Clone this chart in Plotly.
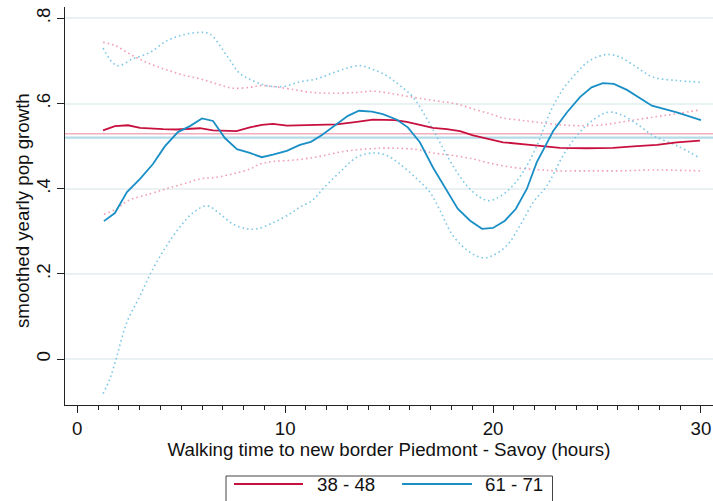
import plotly.graph_objects as go

# Smoothed yearly population growth by walking time to the new border,
# for two age cohorts, with confidence bands and the overall means.

# cohort 38 - 48
x_red = [1.24, 1.81, 2.44, 3.02, 4.13, 4.79, 5.90, 6.53, 7.66, 8.30, 8.88, 9.41,
         10.09, 11.29, 12.48, 13.45, 14.22, 15.28, 15.85, 16.48, 17.10, 17.78,
         18.41, 19.04, 19.71, 20.48, 21.77, 23.22, 24.50, 25.77, 26.92, 27.88,
         28.84, 29.95]
y_red = [0.537, 0.547, 0.549, 0.543, 0.540, 0.539, 0.542, 0.537, 0.535, 0.544,
         0.550, 0.552, 0.548, 0.549, 0.551, 0.557, 0.562, 0.561, 0.557, 0.550,
         0.543, 0.540, 0.535, 0.525, 0.517, 0.509, 0.503, 0.496, 0.495, 0.496,
         0.500, 0.503, 0.509, 0.513]

x_red_hi = [1.24, 1.81, 2.68, 3.50, 4.30, 5.08, 5.90, 6.70, 7.49, 8.30, 8.79, 9.41,
            10.23, 11.29, 12.30, 13.45, 14.22, 15.04, 15.85, 16.63, 17.44, 18.26,
            19.04, 19.85, 20.48, 21.29, 22.11, 23.22, 24.18, 25.28, 26.10, 27.69,
            28.84, 29.95]
y_red_hi = [0.744, 0.736, 0.712, 0.693, 0.679, 0.667, 0.658, 0.646, 0.636, 0.638,
            0.642, 0.640, 0.634, 0.626, 0.624, 0.626, 0.629, 0.624, 0.617, 0.611,
            0.605, 0.599, 0.587, 0.576, 0.566, 0.561, 0.556, 0.550, 0.548, 0.550,
            0.556, 0.568, 0.576, 0.585]

x_red_lo = [1.28, 1.90, 2.44, 3.50, 4.30, 5.08, 5.90, 6.70, 7.49, 8.30, 8.79, 9.41,
            10.57, 11.67, 12.63, 13.60, 14.56, 15.38, 16.34, 17.11, 18.07, 19.04,
            19.85, 20.96, 22.11, 23.07, 24.50, 26.10, 27.69, 29.95]
y_red_lo = [0.340, 0.353, 0.372, 0.388, 0.400, 0.411, 0.423, 0.427, 0.435, 0.446,
            0.458, 0.464, 0.468, 0.476, 0.486, 0.492, 0.495, 0.495, 0.492, 0.484,
            0.478, 0.470, 0.460, 0.450, 0.445, 0.442, 0.442, 0.442, 0.444, 0.442]

# cohort 61 - 71
x_blue = [1.28, 1.81, 2.39, 3.02, 3.64, 4.22, 4.84, 5.42, 6.00, 6.53, 7.10, 7.68,
          8.30, 8.88, 9.41, 10.08, 10.71, 11.24, 11.77, 12.49, 13.02, 13.55, 14.17,
          14.70, 15.38, 15.90, 16.48, 17.11, 17.78, 18.30, 18.90, 19.47, 20.00,
          20.57, 21.10, 21.63, 22.10, 22.90, 23.55, 24.18, 24.74, 25.28, 25.81,
          26.44, 27.64, 28.84, 30.00]
y_blue = [0.324, 0.343, 0.392, 0.423, 0.458, 0.500, 0.533, 0.547, 0.565, 0.559,
          0.519, 0.493, 0.484, 0.474, 0.480, 0.489, 0.503, 0.510, 0.526, 0.552,
          0.571, 0.583, 0.581, 0.575, 0.562, 0.544, 0.509, 0.450, 0.396, 0.353,
          0.325, 0.306, 0.308, 0.325, 0.353, 0.400, 0.462, 0.536, 0.579, 0.615,
          0.638, 0.648, 0.646, 0.632, 0.595, 0.579, 0.561]

x_blue_hi = [1.24, 1.91, 2.68, 3.50, 4.30, 5.08, 5.90, 6.38, 7.20, 7.83, 8.43, 9.10,
             9.90, 10.71, 11.53, 12.30, 12.97, 13.60, 14.22, 14.89, 15.52, 16.15,
             16.82, 17.44, 18.07, 18.74, 19.37, 19.76, 20.19, 20.81, 21.44, 22.11,
             22.74, 23.37, 24.04, 24.66, 25.47, 26.10, 26.92, 27.69, 28.84, 29.95]
y_blue_hi = [0.730, 0.689, 0.705, 0.720, 0.747, 0.761, 0.767, 0.763, 0.712, 0.670,
             0.654, 0.642, 0.640, 0.651, 0.658, 0.672, 0.683, 0.689, 0.680, 0.665,
             0.642, 0.615, 0.564, 0.509, 0.454, 0.407, 0.380, 0.372, 0.378, 0.400,
             0.439, 0.501, 0.579, 0.634, 0.673, 0.701, 0.715, 0.709, 0.685, 0.662,
             0.654, 0.650]

x_blue_lo = [1.24, 1.57, 1.91, 2.39, 3.02, 3.64, 4.31, 4.98, 5.60, 6.25, 6.86, 7.49,
             8.16, 8.64, 9.41, 10.23, 10.71, 11.29, 11.82, 12.63, 13.45, 14.22, 14.89,
             15.52, 16.34, 16.96, 17.44, 18.07, 18.89, 19.51, 19.98, 20.67, 21.29,
             21.93, 22.59, 23.37, 24.04, 24.66, 25.47, 26.10, 26.92, 27.69, 28.84,
             29.95]
y_blue_lo = [-0.081, -0.046, 0.008, 0.087, 0.149, 0.212, 0.267, 0.313, 0.345, 0.360,
             0.341, 0.317, 0.306, 0.306, 0.320, 0.341, 0.357, 0.372, 0.400, 0.439,
             0.474, 0.484, 0.478, 0.458, 0.423, 0.392, 0.350, 0.290, 0.251, 0.238,
             0.243, 0.267, 0.313, 0.368, 0.407, 0.478, 0.525, 0.556, 0.579, 0.575,
             0.552, 0.525, 0.501, 0.472]

# overall means of each cohort
mean_red = 0.529
mean_blue = 0.520

series_names = ["38 - 48", "61 - 71"]
x_ticks = [0, 10, 20, 30]
y_ticks = [0, 0.2, 0.4, 0.6, 0.8]
y_tick_text = ["0", ".2", ".4", ".6", ".8"]

RED = "#c8103e"
BLUE = "#1a8fc6"
RED_CI = "#f19fb4"
BLUE_CI = "#7fc8e6"
FONT = "Liberation Sans, Arial, sans-serif"
FS = 18.7

fig = go.Figure()

for xs, ys, col in [(x_red_hi, y_red_hi, RED_CI), (x_red_lo, y_red_lo, RED_CI),
                    (x_blue_hi, y_blue_hi, BLUE_CI), (x_blue_lo, y_blue_lo, BLUE_CI)]:
    fig.add_trace(go.Scatter(x=xs, y=ys, mode="lines", showlegend=False,
                             line=dict(color=col, width=1.6, dash="1.6px,3px", shape="spline"),
                             hoverinfo="skip"))

fig.add_trace(go.Scatter(x=x_red, y=y_red, mode="lines", name=series_names[0],
                         showlegend=False, line=dict(color=RED, width=1.8)))
fig.add_trace(go.Scatter(x=x_blue, y=y_blue, mode="lines", name=series_names[1],
                         showlegend=False, line=dict(color=BLUE, width=1.8)))

# mean reference lines across the full width
fig.add_shape(type="line", xref="paper", x0=0, x1=1, yref="y", y0=mean_red, y1=mean_red,
              line=dict(color="#f2aebd", width=1.5), layer="below")
fig.add_shape(type="line", xref="paper", x0=0, x1=1, yref="y", y0=mean_blue, y1=mean_blue,
              line=dict(color="#b3dbe8", width=2.2), layer="below")

# plot area geometry in pixels (for the legend box placed below the axes)
W, H = 713, 501
L, R, T, B = 65, 0, 7, 96
pw, ph = W - L - R, H - T - B


def px(xp):
    return (xp - L) / pw


def py(yp):
    return (H - B - yp) / ph


fig.add_shape(type="rect", xref="paper", yref="paper",
              x0=px(226), x1=px(552.5), y0=py(530), y1=py(476),
              line=dict(color="#444444", width=1), fillcolor="white")
for (x0, x1, xt), col, name in zip([(234, 303, 315), (402, 472, 483)], [RED, BLUE], series_names):
    fig.add_shape(type="line", xref="paper", yref="paper",
                  x0=px(x0), x1=px(x1), y0=py(484), y1=py(484),
                  line=dict(color=col, width=1.8))
    fig.add_annotation(xref="paper", yref="paper", x=px(xt), y=py(484), text=name,
                       showarrow=False, xanchor="left", yanchor="middle",
                       font=dict(family=FONT, size=FS, color="#111111"))

# vertical axis title
fig.add_annotation(xref="paper", yref="paper", x=px(22), y=py(211),
                   text="smoothed yearly pop growth", textangle=-90, showarrow=False,
                   xanchor="center", yanchor="middle",
                   font=dict(family=FONT, size=FS, color="#111111"))

fig.update_layout(
    width=W, height=H,
    margin=dict(l=L, r=R, t=T, b=B),
    paper_bgcolor="white", plot_bgcolor="white",
    font=dict(family=FONT, size=FS, color="#111111"),
    showlegend=False,
    xaxis=dict(range=[-0.59, 30.58], tickvals=x_ticks, ticks="outside", ticklen=7,
               tickcolor="#222222", showline=True, linecolor="#222222", linewidth=1,
               showgrid=False, zeroline=False,
               minor=dict(dtick=1, tick0=0, ticks="outside", ticklen=4, tickcolor="#222222",
                          showgrid=False),
               title=dict(text="Walking time to new border Piedmont - Savoy (hours)",
                          standoff=0, font=dict(size=FS))),
    yaxis=dict(range=[-0.1075, 0.8265], tickvals=y_ticks, ticktext=y_tick_text,
               tickangle=-90, ticks="outside", ticklen=7, tickcolor="#222222",
               showline=True, linecolor="#222222", linewidth=1,
               showgrid=True, gridcolor="#eaf1f3", gridwidth=1.5, zeroline=False),
)

fig.write_html("out.html")
